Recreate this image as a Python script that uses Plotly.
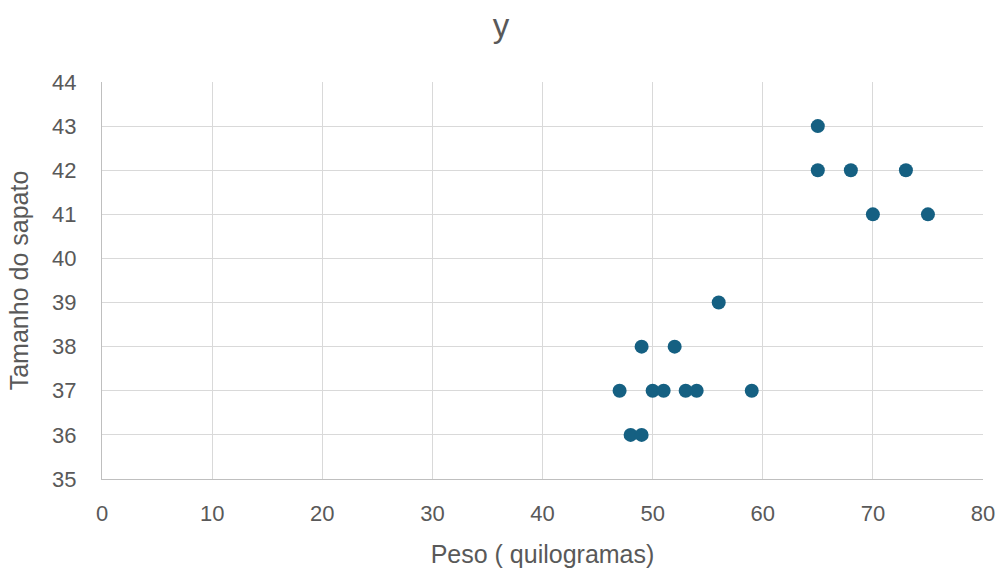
import plotly.graph_objects as go

peso = [65, 65, 68, 73, 70, 75, 56, 49, 52, 47, 50, 51, 53, 54, 59, 48, 49]
sapato = [43, 42, 42, 42, 41, 41, 39, 38, 38, 37, 37, 37, 37, 37, 37, 36, 36]

x_ticks = [0, 10, 20, 30, 40, 50, 60, 70, 80]
y_ticks = [35, 36, 37, 38, 39, 40, 41, 42, 43, 44]

fig = go.Figure()
fig.add_trace(go.Scatter(
    x=peso, y=sapato, mode="markers",
    marker=dict(color="#156082", size=14),
    showlegend=False,
))

fnt = "Liberation Sans, Arial, sans-serif"
fig.update_layout(
    width=1002, height=574,
    margin=dict(l=102, r=19, t=82, b=95),
    paper_bgcolor="white", plot_bgcolor="white",
    title=dict(text="y", x=0.5, xanchor="center", y=0.955, yanchor="middle",
               font=dict(family=fnt, size=33, color="#595959")),
    font=dict(family=fnt, color="#595959"),
    xaxis=dict(
        range=[0, 80], tickvals=x_ticks, showgrid=True, gridcolor="#d9d9d9", gridwidth=1.3,
        zeroline=False, showline=True, linecolor="#bfbfbf", linewidth=1.3,
        tickfont=dict(size=22, color="#595959"), ticks="", ticklabelstandoff=14,
        automargin=False,
        title=dict(text="Peso ( quilogramas)", font=dict(size=25, color="#595959"), standoff=20),
    ),
    yaxis=dict(
        range=[35, 44], tickvals=y_ticks, showgrid=True, gridcolor="#d9d9d9", gridwidth=1.3,
        zeroline=False, showline=True, linecolor="#bfbfbf", linewidth=1.3,
        tickfont=dict(size=22, color="#595959"), ticks="", ticklabelstandoff=20,
        automargin=False,
        title=dict(text="Tamanho do sapato", font=dict(size=25, color="#595959"), standoff=16),
    ),
)
fig.write_html("out.html")
